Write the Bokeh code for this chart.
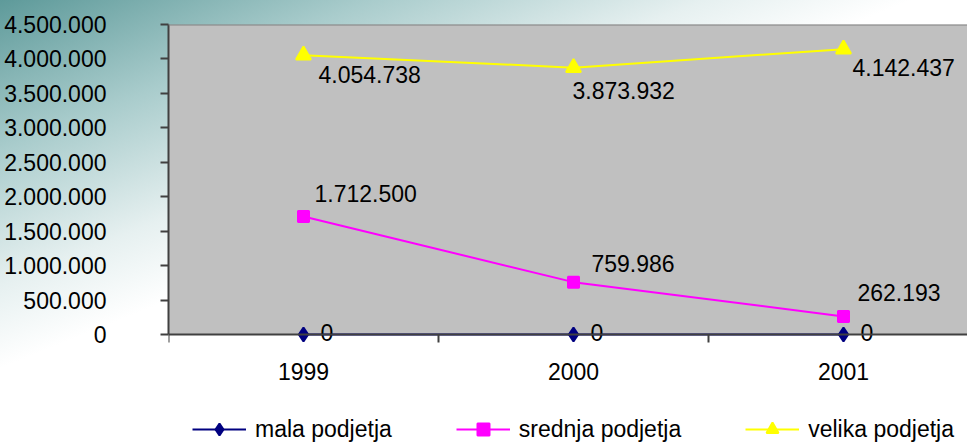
from bokeh.plotting import figure
from bokeh.models import (Range1d, FixedTicker, Legend, LegendItem, Span, BoxAnnotation,
                          ColumnDataSource, GlobalInlineStyleSheet)
from bokeh.core.properties import value
from bokeh.embed import file_html
from bokeh.resources import INLINE

# ---- data ----
years = [1999, 2000, 2001]
mala = [0, 0, 0]
srednja = [1712500, 759986, 262193]
velika = [4054738, 3873932, 4142437]
series_names = ["mala podjetja", "srednja podjetja", "velika podjetja"]
y_ticks = [0, 500000, 1000000, 1500000, 2000000, 2500000, 3000000, 3500000, 4000000, 4500000]
y_tick_labels = ["0", "500.000", "1.000.000", "1.500.000", "2.000.000", "2.500.000",
                 "3.000.000", "3.500.000", "4.000.000", "4.500.000"]
x_tick_labels = ["1999", "2000", "2001"]

# ---- styling / label placement (pixels) ----
FONT = "Liberation Sans"
FS = "23px"
colors = ["#000080", "#FF00FF", "#FFFF00"]
label_dx = [[17, 17, 17], [11, 18, 14], [15, -1, 9]]
label_dy = [[-2, -2, -2], [-23, -19, -24], [19, 23, 18]]

def fmt(v):
    return f"{v:,}".replace(",", ".")

W, H = 967, 447
TOP, LEFT = 24, 168
ZERO_PX = 334          # pixel row of the value 0
y_max = y_ticks[-1]
px_per_unit = (ZERO_PX - TOP) / y_max
y_start = -(H - ZERO_PX) / px_per_unit

p = figure(width=W, height=H, output_backend="svg", toolbar_location=None,
           x_range=Range1d(1998.5, 1998.5 + (W - LEFT) / 270.0),
           y_range=Range1d(y_start, y_max),
           min_border_left=LEFT, min_border_right=0, min_border_top=TOP, min_border_bottom=0)
p.stylesheets = [GlobalInlineStyleSheet(
    css="body { background: linear-gradient(158deg, #5e9a9a 0%, #a9cccc 18%, #e6f0f0 34%, #ffffff 44%); }")]
p.border_fill_color = None
p.background_fill_color = None
p.outline_line_color = None
p.grid.visible = False

p.add_layout(BoxAnnotation(bottom=0, top=y_max, fill_color="#C0C0C0", fill_alpha=1,
                           line_color=None, level="underlay"))
p.add_layout(Span(location=y_max, dimension="width", line_color="#808080", line_width=2))

# x axis: line + category-boundary ticks only (labels drawn as text below)
xa = p.xaxis[0]
xa.ticker = FixedTicker(ticks=[], minor_ticks=[1998.5, 1999.5, 2000.5])
xa.fixed_location = 0
xa.major_tick_out = 0
xa.major_tick_in = 0
xa.major_label_standoff = 0
xa.major_label_text_font_size = "0px"
xa.minor_tick_out = 8
xa.minor_tick_in = 0
xa.minor_tick_line_color = "#404040"
xa.minor_tick_line_width = 2
xa.axis_line_color = "#404040"
xa.axis_line_width = 2

ya = p.yaxis[0]
ya.ticker = FixedTicker(ticks=y_ticks, minor_ticks=[])
ya.major_label_overrides = {t: s for t, s in zip(y_ticks, y_tick_labels)}
ya.bounds = (0, y_max)
ya.major_tick_out = 8
ya.major_tick_in = 0
ya.major_tick_line_color = "#404040"
ya.major_tick_line_width = 2
ya.axis_line_color = "#404040"
ya.axis_line_width = 2
ya.major_label_standoff = 54
ya.major_label_text_font = FONT
ya.major_label_text_font_size = FS
ya.major_label_text_color = "black"

# category labels
p.text(x=years, y=[0] * len(years), text=x_tick_labels, y_offset=37,
       text_font=value(FONT), text_font_size=FS, text_color="black",
       text_align="center", text_baseline="alphabetic")

items = []
all_series = [mala, srednja, velika]
markers = ["diamond", "square", "triangle"]
sizes = [14, 11, 15]
for i, (vals, name) in enumerate(zip(all_series, series_names)):
    src = ColumnDataSource(dict(x=years, y=vals, t=[fmt(v) for v in vals],
                                dx=label_dx[i], dy=label_dy[i]))
    ln = p.line("x", "y", source=src, line_color=colors[i], line_width=2)
    sc = p.scatter("x", "y", source=src, marker=markers[i], size=sizes[i],
                   fill_color=colors[i], line_color=colors[i], line_width=2)
    p.text("x", "y", text="t", source=src, x_offset="dx", y_offset="dy",
           text_font=value(FONT), text_font_size=FS, text_color="black",
           text_align="left", text_baseline="alphabetic")
    items.append(LegendItem(label=name, renderers=[ln, sc]))

legend = Legend(items=items, orientation="horizontal", location=(24, 3),
                glyph_width=54, glyph_height=30, label_standoff=9, spacing=64,
                padding=0, margin=0, border_line_color=None, background_fill_alpha=0,
                label_text_font=FONT, label_text_font_size=FS, label_text_color="black")
p.add_layout(legend, "center")

open("out.html", "w").write(file_html(p, INLINE))
